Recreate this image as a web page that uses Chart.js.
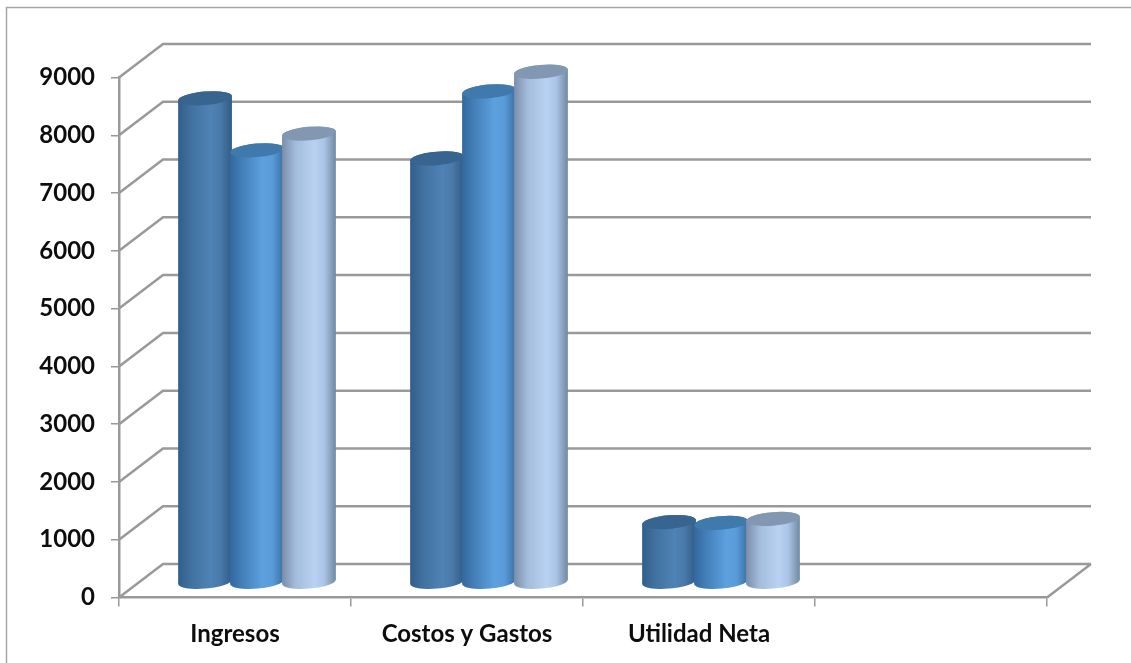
<!DOCTYPE html>
<html>
<head>
<meta charset="utf-8">
<title>Ingresos, Costos y Gastos, Utilidad Neta</title>
<script src="https://cdn.jsdelivr.net/npm/chart.js@4"></script>
<style>
  html, body { margin: 0; padding: 0; background: #fff; }
  canvas { display: block; }
</style>
</head>
<body>
<canvas id="chart" width="1131" height="663"></canvas>
<script>
const categories = ['Ingresos', 'Costos y Gastos', 'Utilidad Neta', '']
const serie1 = [8380, 7340, 1045, null]
const serie2 = [7480, 8500, 1030, null]
const serie3 = [7770, 8840, 1100, null]
const seriesNames = ['Serie 1', 'Serie 2', 'Serie 3']
const yTicks = [0, 1000, 2000, 3000, 4000, 5000, 6000, 7000, 8000, 9000]

// side gradient stops and lid colour for each cylinder series
const cylinderStyles = [
  { side: ['#315e8b', '#41729f', '#4f82b5', '#4a7aaa', '#315b84'], top: '#386490' },
  { side: ['#32689d', '#4581ba', '#5ca0df', '#5a9cd9', '#3a6fa3'], top: '#4079ac' },
  { side: ['#7a8da8', '#a3bcdc', '#b9d2f1', '#abc5e8', '#71889f'], top: '#8298b2' }
]

const GRID_COLOR = '#999999'
const DEPTH_X = 44       // how far the back wall sits from the front axes
const DEPTH_Y = -33.5
const BAR_SHIFT_X = 22   // bars stand in the middle of the floor
const BAR_SHIFT_Y = -15
const TILT = -0.085
const LID_RY = 6.8

const fontLabel = { family: 'Lato', size: 24, weight: 'bold' }

const wallPlugin = {
  id: 'wall',
  beforeDraw(chart) {
    const ctx = chart.ctx
    ctx.save()
    ctx.fillStyle = '#fff'
    ctx.fillRect(0, 0, chart.width, chart.height)
    // frame, only the top and left edges are visible
    ctx.strokeStyle = '#a6a6a6'
    ctx.lineWidth = 1.5
    ctx.beginPath()
    ctx.moveTo(6.5, chart.height)
    ctx.lineTo(6.5, 7.5)
    ctx.lineTo(chart.width, 7.5)
    ctx.stroke()
    ctx.restore()
  },
  beforeDatasetsDraw(chart) {
    const { ctx, chartArea, scales } = chart
    ctx.save()
    ctx.strokeStyle = GRID_COLOR
    ctx.lineWidth = 2.5
    ctx.beginPath()
    yTicks.forEach(v => {
      const y = scales.y.getPixelForValue(v)
      ctx.moveTo(chartArea.left, y)
      ctx.lineTo(chartArea.left + DEPTH_X, y + DEPTH_Y)
      ctx.lineTo(chartArea.right + DEPTH_X, y + DEPTH_Y)
    })
    // floor edge on the right
    ctx.moveTo(chartArea.right, chartArea.bottom)
    ctx.lineTo(chartArea.right + DEPTH_X, chartArea.bottom + DEPTH_Y)
    ctx.stroke()
    ctx.restore()
  }
}

const drawCylinder = (ctx, bar, style) => {
  const cx = bar.x + BAR_SHIFT_X
  const rx = bar.width / 2 + 1
  const topY = bar.y + BAR_SHIFT_Y
  const baseY = bar.base + BAR_SHIFT_Y
  const dx = rx * Math.cos(TILT)
  const dy = rx * Math.sin(TILT)

  const grad = ctx.createLinearGradient(cx - rx, 0, cx + rx, 0)
  const stops = [0, 0.25, 0.6, 0.78, 1]
  style.side.forEach((c, i) => grad.addColorStop(stops[i], c))

  ctx.beginPath()
  ctx.moveTo(cx - dx, topY - dy)
  ctx.lineTo(cx - dx, baseY - dy)
  ctx.ellipse(cx, baseY, rx, LID_RY, TILT, Math.PI, 0, true)
  ctx.lineTo(cx + dx, topY + dy)
  ctx.ellipse(cx, topY, rx, LID_RY, TILT, 0, Math.PI, true)
  ctx.closePath()
  ctx.fillStyle = grad
  ctx.fill()

  ctx.beginPath()
  ctx.ellipse(cx, topY, rx, LID_RY, TILT, 0, Math.PI * 2)
  ctx.fillStyle = style.top
  ctx.fill()
}

const cylinderPlugin = {
  id: 'cylinders',
  afterDatasetsDraw(chart) {
    const ctx = chart.ctx
    ctx.save()
    chart.data.datasets.forEach((ds, i) => {
      chart.getDatasetMeta(i).data.forEach((bar, j) => {
        if (ds.data[j] === null) return
        drawCylinder(ctx, bar, cylinderStyles[i])
      })
    })
    ctx.restore()
  }
}

new Chart(document.getElementById('chart'), {
  type: 'bar',
  data: {
    labels: categories,
    datasets: [serie1, serie2, serie3].map((values, i) => ({
      label: seriesNames[i],
      data: values,
      backgroundColor: 'rgba(0,0,0,0)',
      categoryPercentage: 0.672,
      barPercentage: 1
    }))
  },
  options: {
    responsive: false,
    animation: false,
    layout: { padding: { top: 77.5, right: 84, left: 0, bottom: 0 } },
    plugins: { legend: { display: false }, tooltip: { enabled: false } },
    scales: {
      x: {
        grid: { drawOnChartArea: false, color: GRID_COLOR, tickLength: 9, lineWidth: 1.5, tickColor: GRID_COLOR },
        border: { color: GRID_COLOR, width: 2.5 },
        ticks: { color: '#0d0d0d', font: fontLabel, padding: 13, maxRotation: 0, autoSkip: false },
        afterFit: scale => { scale.height = 65.5 }
      },
      y: {
        min: 0,
        max: 9000,
        afterBuildTicks: scale => { scale.ticks = yTicks.map(value => ({ value })) },
        grid: { drawOnChartArea: false, color: GRID_COLOR, tickLength: 8, lineWidth: 1.5, tickColor: GRID_COLOR },
        border: { color: GRID_COLOR, width: 2.5 },
        ticks: { color: '#0d0d0d', font: fontLabel, padding: 16, callback: value => String(value) },
        afterFit: scale => { scale.width = 119 }
      }
    }
  },
  plugins: [wallPlugin, cylinderPlugin]
})
</script>
</body>
</html>
